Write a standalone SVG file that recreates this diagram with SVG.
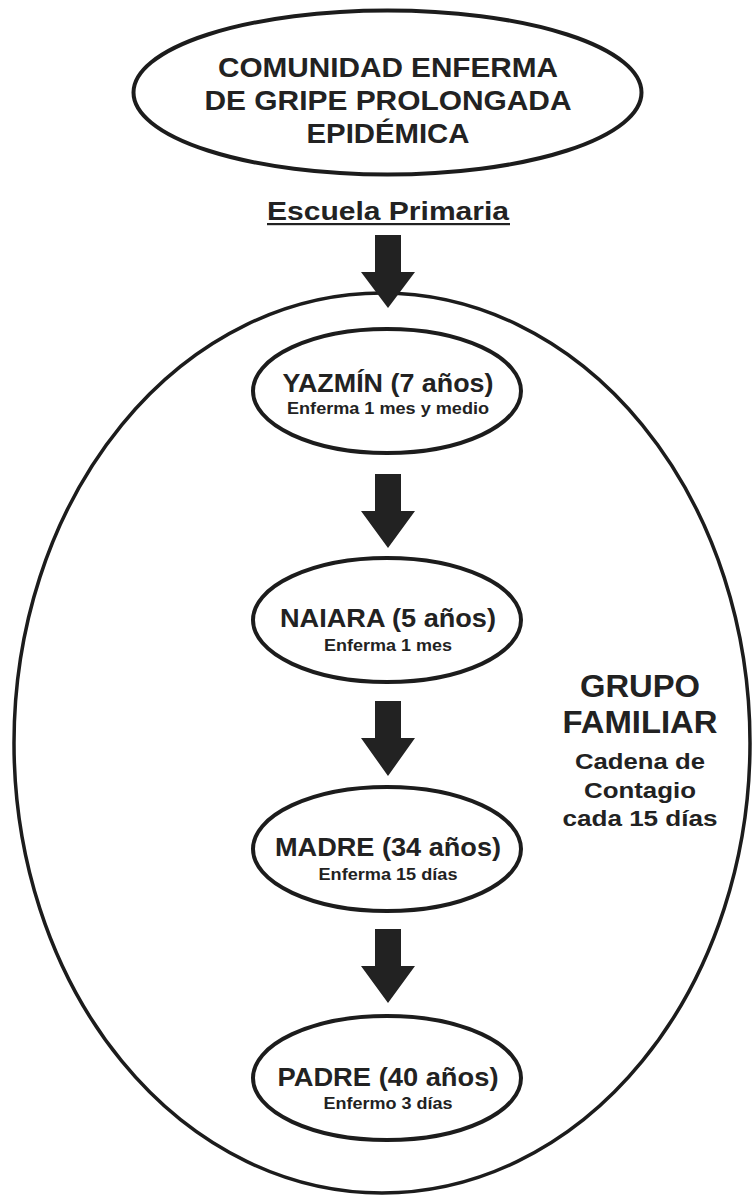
<svg xmlns="http://www.w3.org/2000/svg" width="752" height="1195" viewBox="0 0 752 1195">
<style>
.shape{fill:none;stroke:#1c1c1c;stroke-width:4}
.big{fill:none;stroke:#1c1c1c;stroke-width:3.5}
.t{font-family:"Liberation Sans",Arial,sans-serif;font-weight:bold;fill:#222;text-anchor:middle}
.arrow{fill:#222}
</style>
<rect width="752" height="1195" fill="#fff"/>
<g id="grupo-familiar">
<ellipse class="big" cx="382" cy="743" rx="368" ry="450"/>
<text class="t" x="640" y="697" font-size="31" textLength="120" lengthAdjust="spacingAndGlyphs">GRUPO</text>
<text class="t" x="640" y="733" font-size="31" textLength="155" lengthAdjust="spacingAndGlyphs">FAMILIAR</text>
<text class="t" x="640" y="769" font-size="22" textLength="130" lengthAdjust="spacingAndGlyphs">Cadena de</text>
<text class="t" x="640" y="798" font-size="22" textLength="112" lengthAdjust="spacingAndGlyphs">Contagio</text>
<text class="t" x="640" y="826" font-size="22" textLength="155" lengthAdjust="spacingAndGlyphs">cada 15 días</text>
</g>
<g id="comunidad">
<ellipse class="shape" cx="387.5" cy="92.5" rx="254" ry="82"/>
<text class="t" x="388" y="77" font-size="28" textLength="340" lengthAdjust="spacingAndGlyphs">COMUNIDAD ENFERMA</text>
<text class="t" x="388" y="110" font-size="28" textLength="367" lengthAdjust="spacingAndGlyphs">DE GRIPE PROLONGADA</text>
<text class="t" x="388" y="143" font-size="28" textLength="163" lengthAdjust="spacingAndGlyphs">EPIDÉMICA</text>
</g>
<g id="escuela">
<text class="t" x="388" y="220" font-size="25" textLength="242" lengthAdjust="spacingAndGlyphs">Escuela Primaria</text>
<rect x="267" y="223" width="243" height="2.2" fill="#222"/>
</g>
<g id="yazmin">
<ellipse class="shape" cx="387" cy="391" rx="134" ry="62"/>
<text class="t" x="388" y="392" font-size="26" textLength="211" lengthAdjust="spacingAndGlyphs">YAZMÍN (7 años)</text>
<text class="t" x="388" y="414" font-size="17" textLength="202" lengthAdjust="spacingAndGlyphs">Enferma 1 mes y medio</text>
</g>
<g id="naiara">
<ellipse class="shape" cx="387" cy="620" rx="134" ry="62"/>
<text class="t" x="388" y="627" font-size="26" textLength="216" lengthAdjust="spacingAndGlyphs">NAIARA (5 años)</text>
<text class="t" x="388" y="651" font-size="17" textLength="128" lengthAdjust="spacingAndGlyphs">Enferma 1 mes</text>
</g>
<g id="madre">
<ellipse class="shape" cx="387" cy="849" rx="134" ry="62"/>
<text class="t" x="388" y="856" font-size="26" textLength="226" lengthAdjust="spacingAndGlyphs">MADRE (34 años)</text>
<text class="t" x="388" y="880" font-size="17" textLength="139" lengthAdjust="spacingAndGlyphs">Enferma 15 días</text>
</g>
<g id="padre">
<ellipse class="shape" cx="387" cy="1078" rx="134" ry="62"/>
<text class="t" x="388" y="1086" font-size="26" textLength="221" lengthAdjust="spacingAndGlyphs">PADRE (40 años)</text>
<text class="t" x="388" y="1109" font-size="17" textLength="129" lengthAdjust="spacingAndGlyphs">Enfermo 3 días</text>
</g>
<g id="connectors">
<path class="arrow" d="M375,235 H401 V272 H415 L388,308 L361,272 H375 Z"/>
<path class="arrow" d="M375,474 H401 V511 H415 L388,548 L361,511 H375 Z"/>
<path class="arrow" d="M375,701 H401 V738 H415 L388,776 L361,738 H375 Z"/>
<path class="arrow" d="M375,929 H401 V966 H415 L388,1003 L361,966 H375 Z"/>
</g>
</svg>
